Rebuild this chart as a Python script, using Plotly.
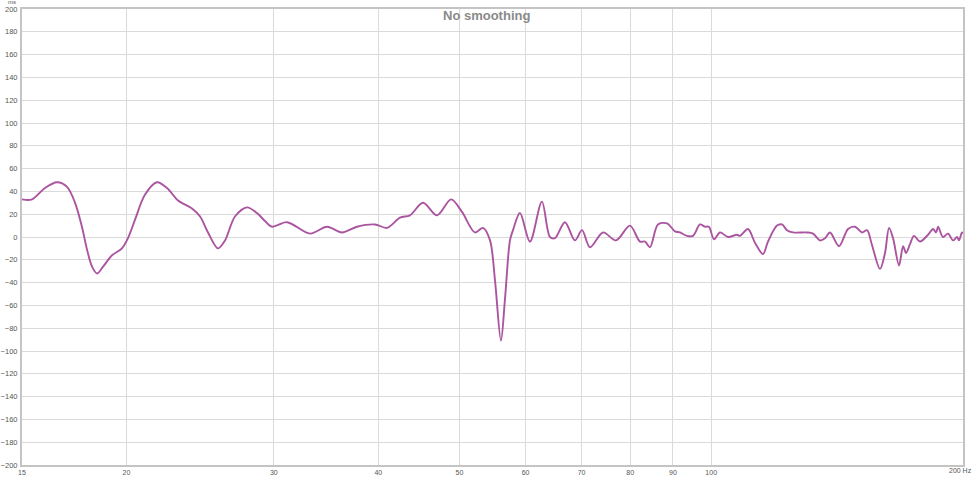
import plotly.graph_objects as go

# Frequency (Hz) and group delay (ms)
freq_hz = [15.0, 15.42, 15.98, 16.52, 16.98, 17.36, 17.69, 17.94, 18.19, 18.44,
           18.75, 19.22, 19.75, 20.08, 20.47, 21.04, 21.75, 22.36, 23.05, 23.95,
           24.49, 25.03, 25.73, 26.23, 26.96, 27.87, 28.64, 29.28, 29.86, 31.11,
           33.15, 34.73, 36.20, 37.72, 39.64, 40.97, 42.46, 43.64, 45.24, 47.02,
           48.87, 50.36, 52.19, 53.36, 54.40, 55.15, 56.06, 56.68, 57.47, 57.95,
           59.07, 60.72, 62.75, 64.16, 65.05, 66.86, 68.73, 70.07, 71.63, 74.25,
           76.94, 79.96, 82.20, 83.34, 84.50, 86.37, 88.55, 90.51, 91.76, 93.55,
           95.10, 96.96, 98.30, 99.38, 100.76, 102.45, 104.73, 107.35, 108.24, 110.66,
           112.80, 115.32, 116.92, 119.86, 121.52, 123.20, 125.26, 130.18, 132.35, 134.93,
           136.80, 138.69, 142.18, 145.75, 148.58, 151.46, 153.57, 155.67, 159.15, 161.36,
           163.16, 164.96, 167.72, 169.58, 170.99, 172.89, 174.78, 177.69, 181.67, 184.20,
           185.72, 186.75, 189.27, 191.91, 194.58, 196.74, 197.79, 199.44, 200.0]
delay_ms = [33, 33, 43, 48, 44, 30, 9, -11, -26, -32,
            -26, -16, -10, -1, 15, 37, 48, 43, 32, 25,
            18, 4, -10, -3, 18, 26, 21, 14, 9, 13,
            3, 9, 4, 9, 11, 8, 17, 19, 30, 19,
            33, 22, 4, 8, -3, -38, -91, -55, -3, 6,
            21, -4, 31, 0, -1, 13, -3, 6, -9, 4,
            -3, 10, -4, -4, -9, 11, 12, 5, 4, 1,
            1, 11, 9, 9, -2, 4, 0, 2, 1, 7,
            -5, -15, -4, 10, 11, 6, 4, 4, 3, -3,
            -1, 4, -8, 7, 9, 4, 6, -7, -28, -14,
            8, -1, -25, -8, -14, -6, 1, -4, 2, 7,
            4, 9, 0, 3, -3, 0, -3, 4, 3]

x_ticks = [15, 20, 30, 40, 50, 60, 70, 80, 90, 100, 200]
x_tick_labels = ["15", "20", "30", "40", "50", "60", "70", "80", "90", "100", ""]
y_ticks = list(range(-200, 201, 20))

fig = go.Figure()
fig.add_trace(go.Scatter(
    x=freq_hz, y=delay_ms, mode="lines",
    line=dict(color="#AB55A0", width=1.9, shape="spline", smoothing=0.9),
    hoverinfo="skip", showlegend=False,
))

font_family = "Liberation Sans, Arial, sans-serif"
fig.update_xaxes(
    type="log", range=[1.176091, 2.30103],
    tickvals=x_ticks, ticktext=x_tick_labels,
    tickfont=dict(family=font_family, size=7, color="#555555"),
    showgrid=True, gridcolor="#dadada", gridwidth=1,
    showline=True, linecolor="#c4c4c4", linewidth=2, mirror=True,
    ticks="", zeroline=False, automargin=False, ticklabelstandoff=0,
)
fig.update_yaxes(
    range=[-200, 200], tickvals=y_ticks,
    tickfont=dict(family=font_family, size=7.5, color="#555555"),
    showgrid=True, gridcolor="#dadada", gridwidth=1,
    showline=True, linecolor="#c4c4c4", linewidth=2, mirror=True,
    ticks="", zeroline=False, automargin=False, ticklabelstandoff=1,
)

fig.update_layout(
    width=975, height=477,
    margin=dict(l=22, r=12, t=9, b=12),
    paper_bgcolor="white", plot_bgcolor="white",
    annotations=[
        dict(text="<b>No smoothing</b>", x=0.494, y=0.985, xref="paper", yref="paper",
             xanchor="center", yanchor="middle", showarrow=False,
             font=dict(family=font_family, size=13, color="#8a8a8a")),
        dict(text="ms", x=-0.011, y=1.0, xref="paper", yref="paper",
             xanchor="center", yanchor="bottom", yshift=2, showarrow=False,
             font=dict(family=font_family, size=6, color="#555555")),
        dict(text="200 Hz", x=1.0, xshift=11, y=-0.001, xref="paper", yref="paper",
             xanchor="right", yanchor="top", showarrow=False,
             font=dict(family=font_family, size=7, color="#555555")),
    ],
)

fig.write_html(
    "out.html",
    config={"displayModeBar": False},
    post_script="document.body.style.margin='0';document.body.style.overflow='hidden';",
)
